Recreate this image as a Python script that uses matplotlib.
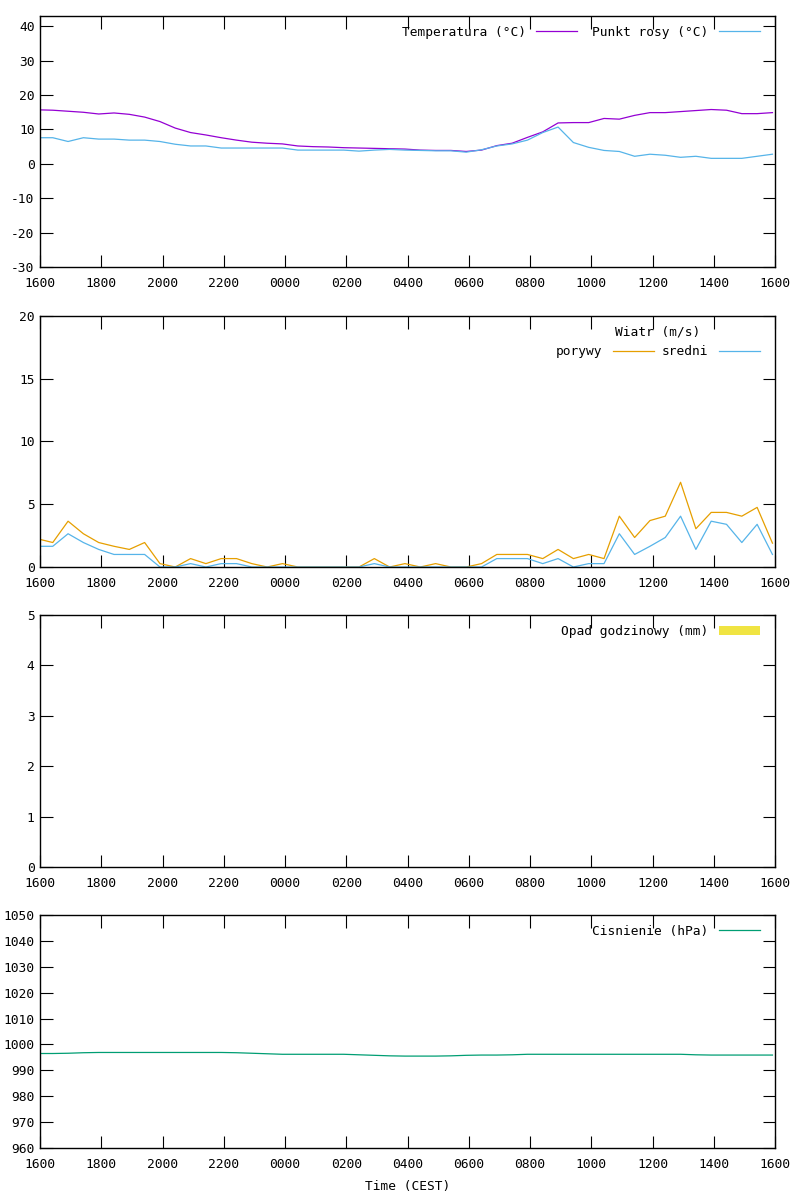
import matplotlib
matplotlib.use("Agg")
import matplotlib.pyplot as plt
from matplotlib.patches import Patch
from matplotlib.lines import Line2D
import numpy as np

plt.rcParams['font.family'] = ['DejaVu Sans Mono']
plt.rcParams['font.size'] = 9.3
plt.rcParams['axes.unicode_minus'] = False

# sample times (local, CEST)
times = ["16:00", "16:25", "16:55", "17:25", "17:55", "18:25", "18:55", "19:25", "19:55",
         "20:25", "20:55", "21:25", "21:55", "22:25", "22:55", "23:25", "23:55", "00:25",
         "00:55", "01:25", "01:55", "02:25", "02:55", "03:25", "03:55", "04:25", "04:55",
         "05:25", "05:55", "06:25", "06:55", "07:25", "07:55", "08:25", "08:55", "09:25",
         "09:55", "10:25", "10:55", "11:25", "11:55", "12:25", "12:55", "13:25", "13:55",
         "14:25", "14:55", "15:25", "15:55"]

temperatura = [15.7, 15.6, 15.3, 15.0, 14.5, 14.8, 14.4, 13.6, 12.3, 10.4, 9.1, 8.4, 7.6,
               6.9, 6.3, 6.0, 5.8, 5.2, 5.0, 4.9, 4.7, 4.6, 4.5, 4.4, 4.3, 4.0, 3.9, 3.9,
               3.6, 4.0, 5.3, 6.0, 7.7, 9.3, 11.9, 12.0, 12.0, 13.2, 13.0, 14.1, 14.9, 14.9,
               15.2, 15.5, 15.8, 15.6, 14.6, 14.6, 14.9]
punkt_rosy = [7.6, 7.6, 6.5, 7.6, 7.2, 7.2, 6.9, 6.9, 6.5, 5.7, 5.2, 5.2, 4.6, 4.6, 4.6,
              4.6, 4.6, 4.0, 4.0, 4.0, 4.0, 3.7, 4.0, 4.2, 4.0, 3.9, 3.8, 3.8, 3.4, 4.1,
              5.2, 5.8, 6.9, 9.1, 10.7, 6.2, 4.8, 3.9, 3.6, 2.2, 2.8, 2.5, 1.9, 2.2, 1.6,
              1.6, 1.6, 2.2, 2.8]

porywy = [2.2, 1.95, 3.65, 2.65, 1.95, 1.65, 1.4, 1.95, 0.27, 0.0, 0.67, 0.27, 0.67, 0.67,
          0.27, 0.0, 0.27, 0.0, 0.0, 0.0, 0.0, 0.0, 0.67, 0.0, 0.27, 0.0, 0.27, 0.0, 0.0,
          0.27, 1.0, 1.0, 1.0, 0.67, 1.4, 0.67, 1.0, 0.67, 4.05, 2.35, 3.7, 4.05, 6.75,
          3.05, 4.35, 4.35, 4.05, 4.75, 1.9]
sredni = [1.65, 1.65, 2.65, 1.95, 1.4, 1.0, 1.0, 1.0, 0.0, 0.0, 0.27, 0.0, 0.27, 0.27, 0.0,
          0.0, 0.0, 0.0, 0.0, 0.0, 0.0, 0.0, 0.27, 0.0, 0.0, 0.0, 0.0, 0.0, 0.0, 0.0, 0.67,
          0.67, 0.67, 0.27, 0.67, 0.0, 0.27, 0.27, 2.65, 1.0, 1.65, 2.35, 4.05, 1.4, 3.65,
          3.4, 1.95, 3.4, 1.0]

opad = []  # no precipitation recorded

cisnienie = [996.5, 996.5, 996.6, 996.8, 996.9, 996.9, 996.9, 996.9, 996.9, 996.9, 996.9,
             996.9, 996.9, 996.8, 996.6, 996.4, 996.2, 996.2, 996.2, 996.2, 996.2, 996.0,
             995.8, 995.6, 995.5, 995.5, 995.5, 995.6, 995.8, 995.9, 995.9, 996.0, 996.2,
             996.2, 996.2, 996.2, 996.2, 996.2, 996.2, 996.2, 996.2, 996.2, 996.2, 996.0,
             995.9, 995.9, 995.9, 995.9, 995.9]

tick_labels = ["1600", "1800", "2000", "2200", "0000", "0200", "0400",
               "0600", "0800", "1000", "1200", "1400", "1600"]

PURPLE = '#9400d3'
BLUE = '#56b4e9'
ORANGE = '#e69f00'
YELLOW = '#f0e442'
GREEN = '#009e73'


def hours_since_start(t):
    h, m = map(int, t.split(':'))
    return ((h * 60 + m - 16 * 60) % 1440) / 60.0


x = np.array([hours_since_start(t) for t in times])

fig = plt.figure(figsize=(8, 12), dpi=100)
left, width = 40 / 800, 735 / 800
boxes = [(16, 267), (316, 567), (615, 867), (915, 1148)]
axes = [fig.add_axes([left, 1 - b / 1200, width, (b - t) / 1200]) for t, b in boxes]


def style(ax, ylim, yticks):
    ax.set_xlim(0, 24)
    ax.set_xticks(np.arange(0, 25, 2))
    ax.set_xticklabels(tick_labels)
    ax.set_ylim(ylim)
    ax.set_yticks(yticks)
    ax.tick_params(direction='in', length=9, width=0.8, top=True, right=True,
                   labelsize=9.3, colors='black')
    ax.tick_params(axis='x', pad=7)
    ax.tick_params(axis='y', pad=4)
    for s in ax.spines.values():
        s.set_linewidth(1.0)


def legend(ax, handles, labels, title=None, colsp=1.15):
    # anchor the legend's upper-right corner a fixed pixel offset from the axes corner
    h_px = ax.get_position().height * 1200
    lg = ax.legend(handles, labels, loc='upper right', frameon=False, ncol=len(handles),
                   bbox_to_anchor=(1 - 15 / 735, 1 - 10 / h_px),
                   markerfirst=False, handlelength=3.2, handletextpad=0.8,
                   columnspacing=colsp, borderaxespad=0, borderpad=0,
                   title=title, title_fontsize=9.3, fontsize=9.3)
    return lg


lw = 0.9

# temperature
ax = axes[0]
ax.plot(x, temperatura, color=PURPLE, lw=lw)
ax.plot(x, punkt_rosy, color=BLUE, lw=lw)
style(ax, (-30, 43), np.arange(-30, 41, 10))
legend(ax, [Line2D([], [], color=PURPLE, lw=lw), Line2D([], [], color=BLUE, lw=lw)],
       ['Temperatura (°C)', 'Punkt rosy (°C)'])

# wind
ax = axes[1]
ax.plot(x, porywy, color=ORANGE, lw=lw)
ax.plot(x, sredni, color=BLUE, lw=lw)
style(ax, (0, 20), [0, 5, 10, 15, 20])
legend(ax, [Line2D([], [], color=ORANGE, lw=lw), Line2D([], [], color=BLUE, lw=lw)],
       ['porywy', 'sredni'], title='Wiatr (m/s)', colsp=0.6)

# precipitation
ax = axes[2]
if opad:
    ax.bar(x[:len(opad)], opad, width=0.5, color=YELLOW)
style(ax, (0, 5), [0, 1, 2, 3, 4, 5])
legend(ax, [Patch(facecolor=YELLOW, edgecolor='none')], ['Opad godzinowy (mm)'])

# pressure
ax = axes[3]
ax.plot(x, cisnienie, color=GREEN, lw=lw)
style(ax, (960, 1050), np.arange(960, 1051, 10))
legend(ax, [Line2D([], [], color=GREEN, lw=lw)], ['Cisnienie (hPa)'])
ax.set_xlabel('Time (CEST)', fontsize=9.3, labelpad=7)

fig.savefig('out.png', dpi=100)
